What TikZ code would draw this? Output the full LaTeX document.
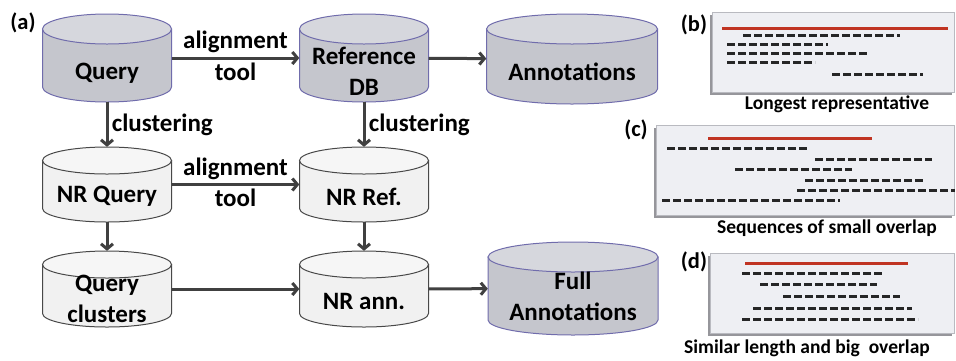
\documentclass[tikz,border=0pt]{standalone}
\usepackage{fontspec}
\setmainfont{Carlito}
\usepackage{tikz}
\usetikzlibrary{arrows.meta}
\definecolor{dbbody}{RGB}{197,198,205}
\definecolor{dbtop}{RGB}{214,215,221}
\definecolor{dbline}{RGB}{112,108,172}
\definecolor{nrbody}{RGB}{241,241,241}
\definecolor{nrtop}{RGB}{246,246,246}
\definecolor{nrline}{RGB}{72,72,72}
\definecolor{arrowgray}{RGB}{64,64,64}
\definecolor{panelfill}{RGB}{238,239,243}
\definecolor{panelline}{RGB}{185,186,192}
\definecolor{panelshadow}{RGB}{150,150,155}
\definecolor{reprred}{RGB}{192,52,34}
\tikzset{
    cylbox/.style={shape=rectangle, draw=none, inner sep=0pt},
    dbbody/.style={fill=dbbody, draw=dbline, line width=1pt},
    dbtop/.style={fill=dbtop, draw=dbline, line width=1pt},
    nrbody/.style={fill=nrbody, draw=nrline, line width=1pt},
    nrtop/.style={fill=nrtop, draw=nrline, line width=1pt},
    lbl/.style={font=\fontsize{25}{31}\selectfont\bfseries, align=center, text=black},
    flow/.style={draw=arrowgray, line width=3pt, -{Straight Barb[length=5pt,width=12pt]}},
    panel/.style={fill=panelfill, draw=panelline, line width=1pt},
    capt/.style={font=\fontsize{19.5}{23}\selectfont\bfseries},
    tag/.style={font=\fontsize{22.5}{26}\selectfont\bfseries},
    seq/.style={line width=3pt, dash pattern=on 8pt off 3pt, black!85},
    repr/.style={line width=3pt, reprred}}
% #1 kind (db/nr), #2 name, #3 x, #4 y, #5 width, #6 height, #7 ellipse radius, #8 text offset, #9 text
\newcommand{\dbcyl}[9]{%
    \node[cylbox, minimum width=#5pt, minimum height=#6pt] (#2) at (#3,#4) {};
    \pgfmathsetmacro{\cylrx}{#5/2}
    \pgfmathsetlengthmacro{\cylrxl}{#5/2}
    \pgfmathsetmacro{\cylyt}{#4-#6/2+#7}
    \pgfmathsetmacro{\cylyb}{#4+#6/2-#7}
    \filldraw[#1body] (#3-\cylrx,\cylyt) -- (#3-\cylrx,\cylyb)
        arc[start angle=180, end angle=360, x radius=\cylrxl, y radius=#7pt] -- (#3+\cylrx,\cylyt) -- cycle;
    \filldraw[#1top] (#3,\cylyt) ellipse[x radius=\cylrxl, y radius=#7pt];
    \node[lbl] (#2-text) at (#3,#4+#8) {#9};
}

\begin{document}
\begin{tikzpicture}[x=1pt, y=-1pt]
    \useasboundingbox (0,0) rectangle (956,360);

            \node[tag] (taga) at (23,23) {(a)};

            \dbcyl{db}{Q}{107}{58}{129}{88}{15}{15}{Query}
            \dbcyl{db}{R}{364}{58}{129}{88}{15}{13}{Reference\\DB}
            \dbcyl{db}{A}{572}{59}{171}{90}{15}{13}{Annotations}
            \dbcyl{nr}{NQ}{107}{184.5}{129}{75}{13.5}{12}{NR Query}
            \dbcyl{nr}{NR}{364}{184.5}{129}{75}{13.5}{12}{NR Ref.}
            \dbcyl{nr}{QC}{107}{289}{129}{76}{13.5}{10}{Query\\clusters}
            \dbcyl{nr}{NA}{364}{289}{129}{76}{13.5}{12}{NR ann.}
            \dbcyl{db}{FA}{573}{288.5}{170}{93}{15}{8}{Full\\Annotations}

            \draw[flow] (Q) -- (R) node[midway, above, lbl] {alignment} node[midway, below, lbl] {tool};
            \draw[flow] (R) -- (A);
            \draw[flow] (Q) -- (NQ) node[midway, right, lbl] {clustering};
            \draw[flow] (R) -- (NR) node[midway, right, lbl] {clustering};
            \draw[flow] (NQ) -- (NR) node[midway, above, lbl] {alignment} node[midway, below, lbl] {tool};
            \draw[flow] (NQ) -- (QC);
            \draw[flow] (NR) -- (NA);
            \draw[flow] (QC) -- (NA);
            \draw[flow] (NA) -- (FA);

            \fill[panelshadow] (710,15) rectangle (952,95);
            \draw[panel] (712,12) rectangle (954,92);
            \node[tag] (tagb) at (694,25) {(b)};
            \draw[repr] (722,28) -- (948,28);
            \foreach \xa/\xb/\y in {743/900/35, 727/828/44, 727/868/53, 727/815/62, 832/923/74}
                \draw[seq] (\xa,\y) -- (\xb,\y);
            \node[capt] (capb) at (837,104) {Longest representative};

            \fill[panelshadow] (654,128) rectangle (952,218);
            \draw[panel] (656,125) rectangle (954,215);
            \node[tag] (tagc) at (636,130) {(c)};
            \draw[repr] (708,138) -- (872,138);
            \foreach \xa/\xb/\y in {667/807/148, 815/932/159, 735/852/169, 805/923/180, 797/955/190, 662/840/200}
                \draw[seq] (\xa,\y) -- (\xb,\y);
            \node[capt] (capc) at (827,228) {Sequences of small overlap};

            \fill[panelshadow] (708,256) rectangle (952,336);
            \draw[panel] (710,253) rectangle (954,333);
            \node[tag] (tagd) at (694,262) {(d)};
            \draw[repr] (745,263) -- (908,263);
            \foreach \xa/\xb/\y in {742/882/273, 760/877/284, 783/900/296, 753/912/308, 742/918/319}
                \draw[seq] (\xa,\y) -- (\xb,\y);
            \node[capt] (capd) at (807,348) {Similar length and big~~overlap};

        \end{tikzpicture}
\end{document}
